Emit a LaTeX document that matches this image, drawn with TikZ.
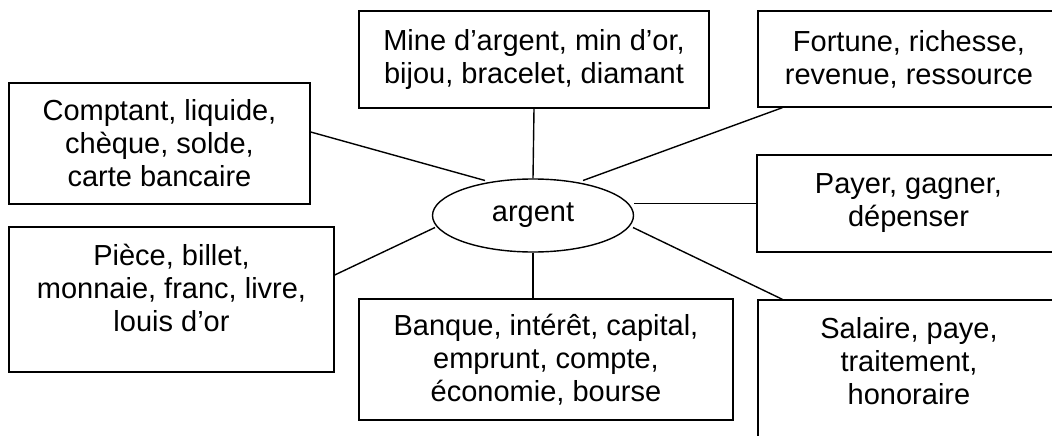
\documentclass[tikz,border=0pt]{standalone}
\usepackage{fontspec}
\setmainfont{Liberation Sans}
\usetikzlibrary{shapes.geometric}
\tikzset{
  box/.style={draw, line width=1.4pt, rectangle, inner sep=0pt, align=center},
  txt/.style={inner sep=0pt, align=center},
  conn/.style={line width=1.4pt},
}
\begin{document}
\begin{tikzpicture}[x=1pt,y=-1pt,font=\fontsize{29}{33}\selectfont]
\useasboundingbox (0,0) rectangle (1052,436);
\clip (0,0) rectangle (1052,436);
\node[box, minimum width=301pt, minimum height=121pt] (com) at (159.5,143.5) {Comptant, liquide,\\chèque, solde,\\carte bancaire};
\node[box, minimum width=350pt, minimum height=97pt] (mine) at (534,59.5) {Mine d’argent, min d’or,\\bijou, bracelet, diamant};
\node[box, minimum width=302pt, minimum height=96pt] (fort) at (909,59) {Fortune, richesse,\\revenue, ressource};
\node[box, minimum width=303pt, minimum height=97pt] (pay) at (908.5,203.5) {Payer, gagner,\\dépenser};
\node[box, minimum width=302pt, minimum height=160pt] (sal) at (909,380) {};
\node[txt] (salt) at (909,361) {Salaire, paye,\\traitement,\\honoraire};
\node[box, minimum width=325pt, minimum height=145pt] (pie) at (171.5,299.5) {};
\node[txt] (piet) at (171.5,288) {Pièce, billet,\\monnaie, franc, livre,\\louis d’or};
\node[box, minimum width=374pt, minimum height=121pt] (bq) at (546,359.5) {Banque, intérêt, capital,\\emprunt, compte,\\économie, bourse};
\node[draw, line width=1.4pt, ellipse, inner sep=0pt, minimum width=201pt, minimum height=73pt] (arg) at (533,215.5) {argent};
\draw[conn] ([yshift=11.5pt]com.east) -- ([shift={(-48,-35)}]arg.center);
\draw[conn] (mine.south) -- (arg.north);
\draw[conn] ([xshift=25pt]fort.south west) -- ([shift={(50,-35)}]arg.center);
\draw[conn] (pay.west) -- (arg.east |- pay.west);
\draw[conn] ([xshift=25pt]sal.north west) -- ([shift={(100,12)}]arg.center);
\draw[conn] ([yshift=24.5pt]pie.east) -- ([shift={(-98,12)}]arg.center);
\draw[conn] (arg.south) -- (arg.south |- bq.north);
\end{tikzpicture}
\end{document}
